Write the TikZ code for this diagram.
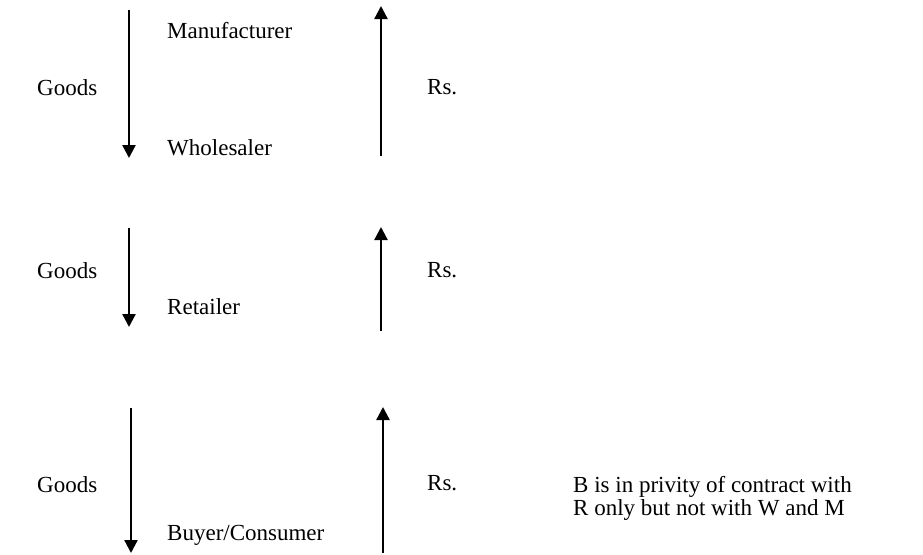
\documentclass[tikz,border=0pt]{standalone}
\usepackage{fontspec}
\setmainfont{Liberation Serif}
\usetikzlibrary{arrows.meta}
\begin{document}
\begin{tikzpicture}[x=1pt,y=-1pt,
  lbl/.style={anchor=base west,inner sep=0pt,font=\fontsize{23}{25}\selectfont},
  flow/.style={line width=2.3pt,-{Triangle[width=13pt,length=13pt]}}]
\useasboundingbox (0,0) rectangle (923,554);
% arrows
\coordinate (d1s) at (129,10);  \coordinate (d1e) at (129,158);
\coordinate (u1s) at (381,156); \coordinate (u1e) at (381,6);
\coordinate (d2s) at (129,228); \coordinate (d2e) at (129,327);
\coordinate (u2s) at (381,331); \coordinate (u2e) at (381,227);
\coordinate (d3s) at (131,408); \coordinate (d3e) at (131,553);
\coordinate (u3s) at (383,553); \coordinate (u3e) at (383,407);
\draw[flow] (d1s) -- (d1e);
\draw[flow] (u1s) -- (u1e);
\draw[flow] (d2s) -- (d2e);
\draw[flow] (u2s) -- (u2e);
\draw[flow] (d3s) -- (d3e);
\draw[flow] (u3s) -- (u3e);
% labels
\node[lbl] (g1) at (37,95) {Goods};
\node[lbl] (man) at (167,38) {Manufacturer};
\node[lbl] (who) at (167,155) {Wholesaler};
\node[lbl] (r1) at (427,94) {Rs.};
\node[lbl] (g2) at (37,278) {Goods};
\node[lbl] (ret) at (167,314) {Retailer};
\node[lbl] (r2) at (427,277) {Rs.};
\node[lbl] (g3) at (37,492) {Goods};
\node[lbl] (buy) at (167,540) {Buyer/Consumer};
\node[lbl] (r3) at (427,490) {Rs.};
\node[lbl] (note1) at (573,492) {B is in privity of contract with};
\node[lbl] (note2) at (573,515) {R only but not with W and M};
\end{tikzpicture}
\end{document}
